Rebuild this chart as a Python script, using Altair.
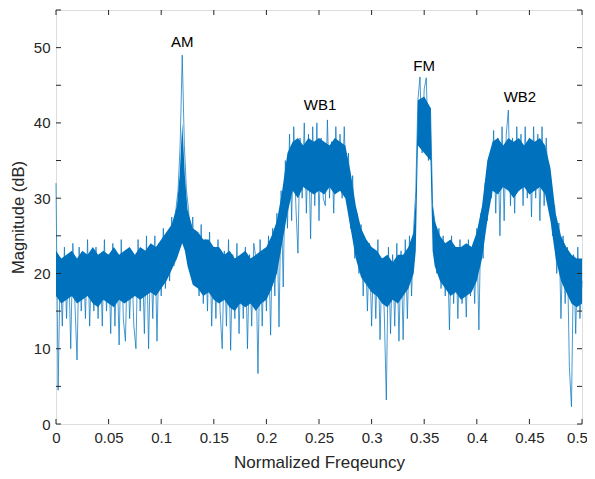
import altair as alt
import pandas as pd

# ---- data ----
band_x = [0.000, 0.005, 0.010, 0.015, 0.020, 0.025, 0.030, 0.035, 0.040, 0.045,
          0.050, 0.055, 0.060, 0.065, 0.070, 0.075, 0.080, 0.085, 0.090, 0.095,
          0.100, 0.105, 0.110, 0.115, 0.1175, 0.120, 0.1225, 0.125, 0.130, 0.135, 0.140, 0.145,
          0.150, 0.155, 0.160, 0.165, 0.170, 0.175, 0.180, 0.185, 0.190, 0.195,
          0.200, 0.205, 0.210, 0.215, 0.220, 0.225, 0.230, 0.235, 0.240, 0.245,
          0.250, 0.255, 0.260, 0.265, 0.270, 0.275, 0.280, 0.285, 0.290, 0.295,
          0.300, 0.305, 0.310, 0.315, 0.320, 0.325, 0.330, 0.335, 0.340, 0.342,
          0.344, 0.350, 0.356, 0.358, 0.360, 0.365, 0.370, 0.375, 0.380, 0.385,
          0.390, 0.395, 0.400, 0.405, 0.410, 0.415, 0.420, 0.425, 0.430, 0.435,
          0.440, 0.445, 0.450, 0.455, 0.460, 0.465, 0.470, 0.475, 0.480, 0.485,
          0.490, 0.495, 0.500]
band_lo = [17, 16, 16.5, 17, 16, 16.5, 17, 16, 15.5, 16.5,
           16, 15.5, 16.5, 16, 16.5, 17, 16.5, 17, 17.5, 17,
           18, 19, 20.5, 22, 23, 24, 23, 21, 18.5, 18, 17, 17.5,
           16.5, 16, 16.5, 15.5, 15, 16, 15.5, 16, 15, 16,
           16.5, 18, 20, 24, 28, 31, 30, 31.5, 31, 30.5,
           31, 30.5, 31.5, 30.5, 31, 30, 26, 22, 19.5, 18.5,
           17.5, 17, 16, 15.5, 16.5, 16, 17, 18, 20, 23,
           37, 36, 35, 23, 21, 19, 18, 17, 17.5, 16.5,
           17, 17.5, 19, 22, 27, 31, 30.5, 31.5, 31, 30,
           31, 31.5, 30.5, 31, 31.5, 30.5, 27, 22, 19, 17.5,
           16, 15.5, 16]
band_hi = [23, 22, 22.5, 23, 22, 23, 22.5, 23.5, 22.5, 23,
           22.5, 23.5, 22.5, 23, 23.5, 22.5, 23.5, 23, 24, 23.5,
           24.5, 25.5, 26.5, 29, 33, 40, 33, 28.5, 26, 25.5, 24.5, 24.5,
           23.5, 23.5, 22.5, 23, 22, 22.5, 23, 22, 22.5, 23,
           23.5, 25, 27, 31, 36, 37.5, 38, 37, 38, 37.5,
           38, 37.5, 37, 38, 37.5, 37, 33.5, 29, 26, 24.5,
           23.5, 23, 22, 22.5, 21.5, 22.5, 22.5, 23.5, 25.5, 30,
           43, 43.5, 42, 29, 27, 25, 24, 24.5, 23.5, 23.5,
           24, 23.5, 25.5, 29, 35, 37.5, 38, 37, 38, 37.5,
           38, 37, 38, 37.5, 38, 37, 34, 28, 25, 23.5,
           22.5, 22, 22]

# spectrum trace, one value every 0.002 of normalized frequency
trace_vals = [
    32, 4.5, 21, 13, 23.5,
    14, 22, 10, 24, 16,
    8.5, 23.5, 15, 22, 14,
    24.5, 13, 22, 15, 23.5,
    14, 22.5, 13, 24.5, 15,
    22.5, 12, 24, 13, 22,
    10.5, 24.5, 14, 11, 23,
    14, 22, 13, 10, 24.5,
    15, 23, 12, 25, 10,
    23.5, 14, 25, 11, 24,
    17, 26, 18, 25.5, 19,
    27.5, 21, 28.5, 31, 37,
    49,
    37, 31, 28.5, 22,
    27.5, 19, 25.5, 17, 26.5,
    16, 24.5, 15, 25.5, 13,
    23.5, 14, 24.5, 15, 10,
    23, 13, 24.5, 9.8, 22.5,
    14, 24, 12, 22, 14,
    23.5, 10, 22.5, 13, 24,
    22, 6.7, 24.5, 13, 23,
    15, 25, 11.8, 26, 17,
    28, 12.9, 31, 18.2, 35,
    26, 38.5, 27, 39.5, 29,
    22.7, 38, 30, 40, 28,
    38.5, 24.6, 39.5, 29, 40,
    27, 38, 30, 29, 40.4,
    30, 37.5, 28, 39.5, 31,
    38.5, 30, 39.5, 31, 36,
    26, 33, 22, 28, 20,
    26.5, 17, 24.5, 15, 24,
    13, 23, 14, 24.5, 11.2,
    22, 15, 3.2, 23.5, 12,
    22.5, 13, 24, 11, 23,
    11.2, 24.5, 14, 25, 17,
    26, 31, 43, 46.1, 36,
    44.5, 46, 35, 42, 29,
    27, 20, 26, 18, 25,
    17, 24, 12.5, 25, 16,
    23.5, 14, 24.5, 16, 23,
    14.2, 24.5, 17, 23.5, 16,
    26, 12.5, 28, 22, 32,
    27, 35.5, 30, 39, 28,
    38, 25, 39.5, 27, 38.5,
    41.7, 29, 38, 28, 39.5,
    31, 38.5, 29, 39.5, 30,
    38, 27.5, 39.5, 30, 38.5,
    27, 39.5, 29, 38, 31,
    33, 25, 29, 20, 26.7,
    14, 25, 16, 23.5, 7.5,
    2.3, 22.5, 12, 23.5, 14,
    19,
]
trace_x = [round(i * 0.002, 3) for i in range(len(trace_vals))]

label_text = ["AM", "WB1", "FM", "WB2"]
label_x = [0.12, 0.251, 0.35, 0.441]
label_y = [50.7, 42.4, 47.5, 43.4]

x_ticks = [0, 0.05, 0.1, 0.15, 0.2, 0.25, 0.3, 0.35, 0.4, 0.45, 0.5]
y_ticks = [0, 5, 10, 15, 20, 25, 30, 35, 40, 45, 50, 55]

# ---- chart ----
W, H = 526, 414
BLUE = "#0072BD"
DARK = "#262626"
FONT = "Liberation Sans"

xs = alt.Scale(domain=[0, 0.5], nice=False, zero=False)
ys = alt.Scale(domain=[0, 55], nice=False, zero=False)

band_df = pd.DataFrame({"x": band_x, "lo": band_lo, "hi": band_hi})
trace_df = pd.DataFrame({"x": trace_x, "y": trace_vals})
lab_df = pd.DataFrame({"t": label_text, "x": label_x, "y": label_y})
xt_df = pd.DataFrame({"v": x_ticks})
yt_df = pd.DataFrame({"v": y_ticks})

xaxis = alt.Axis(values=x_ticks, format="~g", title="Normalized Freqeuncy", ticks=False,
                 domain=False, grid=False, labelFont=FONT, labelFontSize=15,
                 labelColor=DARK, labelPadding=6, labelOverlap=False,
                 labelOffset={"expr": "datum.value >= 0.5 ? -5 : 0"},
                 titleFont=FONT, titleFontSize=17, titleFontWeight="normal",
                 titleColor=DARK, titlePadding=9, labelFlush=False)
yaxis = alt.Axis(values=y_ticks, title="Magnitude (dB)", ticks=False, domain=False,
                 grid=False, labelFont=FONT, labelFontSize=15, labelColor=DARK,
                 labelPadding=6, labelOverlap=False, titleFont=FONT, titleFontSize=16.5,
                 titleFontWeight="normal", titleColor=DARK, titlePadding=7,
                 labelFlush=False)

band = alt.Chart(band_df).mark_area(color=BLUE, opacity=1).encode(
    x=alt.X("x:Q", scale=xs, axis=xaxis),
    y=alt.Y("lo:Q", scale=ys, axis=yaxis),
    y2="hi:Q",
)

trace = alt.Chart(trace_df).mark_line(color=BLUE, strokeWidth=0.8, opacity=0.9).encode(
    x=alt.X("x:Q", scale=xs),
    y=alt.Y("y:Q", scale=ys),
)

labels = alt.Chart(lab_df).mark_text(font=FONT, fontSize=15, color="#000000",
                                     baseline="middle", align="center").encode(
    x=alt.X("x:Q", scale=xs), y=alt.Y("y:Q", scale=ys), text="t:N")

tick_len = 5
bt = alt.Chart(xt_df).mark_rule(color=DARK, strokeWidth=1).encode(
    x=alt.X("v:Q", scale=xs), y=alt.value(H), y2=alt.value(H - tick_len))
tt = alt.Chart(xt_df).mark_rule(color=DARK, strokeWidth=1).encode(
    x=alt.X("v:Q", scale=xs), y=alt.value(0), y2=alt.value(tick_len))
lt = alt.Chart(yt_df).mark_rule(color=DARK, strokeWidth=1).encode(
    y=alt.Y("v:Q", scale=ys), x=alt.value(0), x2=alt.value(tick_len))
rt = alt.Chart(yt_df).mark_rule(color=DARK, strokeWidth=1).encode(
    y=alt.Y("v:Q", scale=ys), x=alt.value(W), x2=alt.value(W - tick_len))

chart = alt.layer(band, trace, labels, bt, tt, lt, rt).properties(
    width=W, height=H,
    autosize=alt.AutoSizeParams(type="none"),
    padding={"left": 48, "top": 2, "right": 5, "bottom": 55},
).configure_view(stroke=DARK, strokeWidth=1).configure(background="white")

chart.save("out.html", embed_options={"renderer": "svg", "actions": False})
